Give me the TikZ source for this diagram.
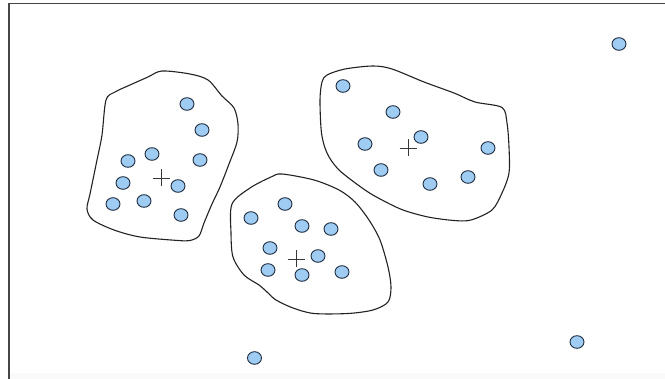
\documentclass[tikz,border=0pt]{standalone}
\usepackage{xcolor}
\usepackage{tikz}
\usetikzlibrary{shapes.geometric}
\definecolor{ptFill}{RGB}{158,204,242}
\definecolor{ptLine}{RGB}{ 30, 42, 62}
\definecolor{hullLine}{RGB}{ 34, 34, 34}
\definecolor{frameLine}{RGB}{ 70, 70, 70}

\begin{document}
\begin{tikzpicture}[x=1pt, y=-1pt,
    pnt/.style={ellipse, draw=ptLine, fill=ptFill, line width=0.9pt,
                minimum width=14pt, minimum height=12.6pt, inner sep=0pt},
    hull/.style={draw=hullLine, line width=1.1pt, smooth cycle, tension=0.5},
    ctr/.style={draw=hullLine!90, line width=0.9pt}
  ]
  \useasboundingbox (0,0) rectangle (665,379);
  \fill[black!2] (9,373) rectangle (665,379);
  \draw[frameLine, line width=1.3pt] (9,379) -- (9,3.5) -- (665,3.5);

  % left cluster
  \draw[hull] plot coordinates {(162,71) (190,74) (208,80) (222,96) (234,108)
       (238,124) (237,142) (229,164) (220,187) (212,204) (204,223) (199,236)
       (190,240.5) (178,240.5) (140,237) (114,230) (93,220) (87,209) (90,194)
       (97,160) (102,135) (106,100) (115,92) (130,85) (148,77)};
  \foreach \x/\y [count=\i] in {187/104, 202/130, 200/160, 152/154, 128/161,
       123/183, 178/186, 113/204, 144/201, 181/215}
    \node[pnt] (a\i) at (\x,\y) {};
  \coordinate (ca) at (161,178);

  % middle cluster
  \draw[hull] plot coordinates {(282,174) (314,180) (339,190) (355,202) (369,220)
       (380,240) (388,267) (391,287) (388,302) (373,310) (348,313.5) (314,313.5)
       (293,308) (276,300) (267,292) (259,285) (244,275) (233,257) (231,233)
       (232,204) (250,188) (271,177)};
  \foreach \x/\y [count=\i] in {285/204, 251/218, 302/226, 331/229, 270/248,
       318/256, 268/270, 302/275, 342/272}
    \node[pnt] (b\i) at (\x,\y) {};
  \coordinate (cb) at (296,259);

  % right cluster
  \draw[hull] plot coordinates {(327,75) (345,69) (373,66) (392,69) (424,82)
       (454,93) (475,102) (502,107.5) (507,123) (509,147) (509,173) (502,193)
       (492,210) (471,220) (454,220.5) (428,217) (403,210) (382,200) (365,190)
       (339,170) (327,153) (321.5,133) (320,100) (322,82)};
  \foreach \x/\y [count=\i] in {343/86, 393/112, 421/137, 365/144, 488/148,
       381/170, 468/177, 430/184}
    \node[pnt] (c\i) at (\x,\y) {};
  \coordinate (cc) at (408,148);

  % centroids
  \foreach \c in {ca, cb, cc}
    \draw[ctr] ([xshift=-8.5pt]\c) -- ([xshift=8.5pt]\c)
               ([yshift=-8.5pt]\c) -- ([yshift=8.5pt]\c);

  % outliers
  \node[pnt] (o1) at (619,44) {};
  \node[pnt] (o2) at (577,342) {};
  \node[pnt] (o3) at (254.5,358) {};
\end{tikzpicture}
\end{document}
